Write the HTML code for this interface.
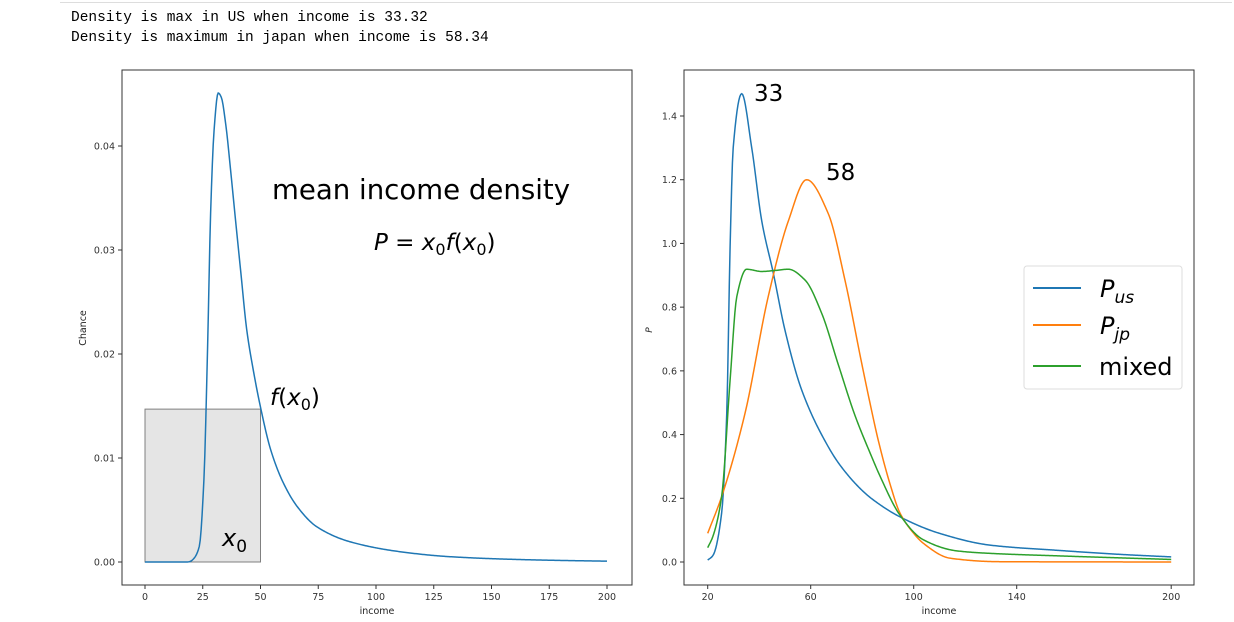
<!DOCTYPE html>
<html><head><meta charset="utf-8">
<style>
body{margin:0;background:#fff;width:1234px;height:622px;overflow:hidden;font-family:"DejaVu Sans","Liberation Sans",sans-serif}
#out{position:absolute;left:71px;top:8px;font-family:"Liberation Mono",monospace;font-size:14.5px;line-height:20px;color:#000;white-space:pre}
#topline{position:absolute;left:60px;top:0;width:1172px;height:2px;border-bottom:1px solid #ddd}
svg{position:absolute;left:0;top:0;font-family:"DejaVu Sans","Liberation Sans",sans-serif}
</style></head><body>
<div id="topline"></div>
<div id="out">Density is max in US when income is 33.32
Density is maximum in japan when income is 58.34</div>
<svg id="svg" width="1234" height="622"></svg>
<script>
// Left chart data
const usX = [0,18,19.5,21,23.5,25.5,27.1,28.4,29.9,31.7,33,35,37,39,41.5,44,47,49.8,54.4,59.9,66,74.3,88.7,110.4,132,160,180,200];
const usDensity = [0,0,0.00005,0.0003,0.0015,0.0079,0.0207,0.0335,0.0415,0.0451,0.0447,0.042,0.0378,0.0333,0.0278,0.0224,0.0183,0.0151,0.0108,0.0076,0.0053,0.0034,0.00195,0.00099,0.00051,0.00025,0.00015,0.00008];
const leftXTicks = [0,25,50,75,100,125,150,175,200];
const leftYTicks = [0,0.01,0.02,0.03,0.04];
const leftYLabels = ["0.00","0.01","0.02","0.03","0.04"];
const rectX0 = 50, rectF = 0.0147;
// Right chart data
const pusX = [20,22,25.4,27.4,28.7,29.9,33.2,37.1,41,45.5,50,56.5,66.8,71.4,79.8,84.3,94.6,110,129.6,157,180,200];
const pusV = [0.006,0.02,0.153,0.467,0.99,1.30,1.47,1.30,1.07,0.906,0.728,0.54,0.362,0.304,0.226,0.195,0.142,0.09,0.053,0.036,0.024,0.016];
const pjpX = [20,25.4,34.5,43.5,51.3,58.4,66.8,73.3,79.8,83,86.3,90.8,94.6,100,103.7,114.1,133,200];
const pjpV = [0.09,0.205,0.467,0.833,1.07,1.20,1.094,0.885,0.624,0.50,0.38,0.245,0.155,0.09,0.059,0.012,0.001,0.0];
const mixX = [20,22,25.4,28.7,31.3,35.1,41,46,51.3,57.8,64.3,70.7,77.2,83.7,86.9,94.6,103.7,116.7,130,157,180,200];
const mixV = [0.045,0.08,0.205,0.571,0.833,0.919,0.912,0.915,0.919,0.885,0.78,0.62,0.46,0.33,0.27,0.148,0.07,0.035,0.027,0.019,0.013,0.008];
const rightXTicks = [20,60,100,140,200];
const rightYTicks = [0,0.2,0.4,0.6,0.8,1.0,1.2,1.4];

const NS="http://www.w3.org/2000/svg", svg=document.getElementById('svg');
function el(tag,attrs,parent){const e=document.createElementNS(NS,tag);for(const k in attrs)e.setAttribute(k,attrs[k]);(parent||svg).appendChild(e);return e;}
function txt(s,attrs,parent){const e=el('text',attrs,parent);e.textContent=s;return e;}
// monotone cubic (Fritsch-Carlson) interpolation, sampled finely
function path(xs,ys,sx,sy){
  const n=xs.length,d=[],m=new Array(n);
  for(let i=0;i<n-1;i++)d.push((ys[i+1]-ys[i])/(xs[i+1]-xs[i]));
  m[0]=d[0];m[n-1]=d[n-2];
  for(let i=1;i<n-1;i++){if(d[i-1]*d[i]<=0)m[i]=0;else{const h0=xs[i]-xs[i-1],h1=xs[i+1]-xs[i];m[i]=3*(h0+h1)/((2*h1+h0)/d[i-1]+(h1+2*h0)/d[i]);}}
  let out=`M${sx(xs[0]).toFixed(2)},${sy(ys[0]).toFixed(2)}`;
  for(let i=0;i<n-1;i++){const h=xs[i+1]-xs[i],steps=Math.max(4,Math.ceil(sx(xs[i+1])-sx(xs[i])));
    for(let k=1;k<=steps;k++){const t=k/steps,t2=t*t,t3=t2*t;
      const y=(2*t3-3*t2+1)*ys[i]+(t3-2*t2+t)*h*m[i]+(-2*t3+3*t2)*ys[i+1]+(t3-t2)*h*m[i+1];
      out+=` L${sx(xs[i]+t*h).toFixed(2)},${sy(y).toFixed(2)}`;}}
  return out;}

// Left axes
const lx=v=>145+v*(607-145)/200, ly=v=>562-v*(562-146)/0.04;
const gL=el('g',{});  
const rect=el('rect',{x:lx(0),y:ly(rectF),width:lx(rectX0)-lx(0),height:ly(0)-ly(rectF),fill:'#e5e5e5',stroke:'#808080','stroke-width':1},gL);
 
const lc=el('path',{d:path(usX,usDensity,lx,ly),fill:'none',stroke:'#1f77b4','stroke-width':1.5},gL);
 
const lf=el('rect',{x:122,y:70,width:510,height:515,fill:'none',stroke:'#333','stroke-width':1},gL);
 
leftXTicks.forEach(t=>{const x=lx(t);el('line',{x1:x,x2:x,y1:585,y2:589,stroke:'#333'},gL);
  const tl=txt(String(t),{x:x,y:600,'font-size':9.5,'text-anchor':'middle',fill:'#333'},gL);
   });
leftYTicks.forEach((t,i)=>{const y=ly(t);el('line',{x1:118,x2:122,y1:y,y2:y,stroke:'#333'},gL);
  const tl=txt(leftYLabels[i],{x:115,y:y+3.5,'font-size':9.5,'text-anchor':'end',fill:'#333'},gL);
   });
let t;
t=txt('income',{x:377,y:614,'font-size':9.5,'text-anchor':'middle',fill:'#222'},gL);
t=txt('Chance',{x:86,y:328,'font-size':9.5,'text-anchor':'middle',fill:'#222',transform:'rotate(-90 86 328)'},gL);
t=txt('mean income density',{x:272,y:199,'font-size':27.6,fill:'#000'},gL);
t=el('text',{x:374,y:250,'font-size':23,fill:'#000'},gL);t.innerHTML='<tspan font-style="italic">P</tspan> = <tspan font-style="italic">x</tspan><tspan font-size="16" dy="5">0</tspan><tspan dy="-5" font-style="italic">f</tspan>(<tspan font-style="italic">x</tspan><tspan font-size="16" dy="5">0</tspan><tspan dy="-5">)</tspan>';

t=el('text',{x:270,y:405,'font-size':23,fill:'#000'},gL);t.innerHTML='<tspan font-style="italic">f</tspan>(<tspan font-style="italic">x</tspan><tspan font-size="16" dy="5">0</tspan><tspan dy="-5">)</tspan>';

t=el('text',{x:222,y:546,'font-size':24,fill:'#000'},gL);t.innerHTML='<tspan font-style="italic">x</tspan><tspan font-size="17" dy="6">0</tspan>';


// Right axes
const rx=v=>707.7+(v-20)*2.575, ry=v=>562-v*(562-116)/1.4;
const gR=el('g',{});  
const series=[[pusX,pusV,'#1f77b4','p-us-line'],[pjpX,pjpV,'#ff7f0e','p-jp-line'],[mixX,mixV,'#2ca02c','mixed-line']];
series.forEach(s=>{const p=el('path',{d:path(s[0],s[1],rx,ry),fill:'none',stroke:s[2],'stroke-width':1.5},gR);
   });
const rf=el('rect',{x:684,y:70,width:510,height:515,fill:'none',stroke:'#333','stroke-width':1},gR);
 
rightXTicks.forEach(v=>{const x=rx(v);el('line',{x1:x,x2:x,y1:585,y2:589,stroke:'#333'},gR);
  const tl=txt(String(v),{x:x,y:600,'font-size':9.5,'text-anchor':'middle',fill:'#333'},gR);
   });
rightYTicks.forEach(v=>{const y=ry(v);el('line',{x1:680,x2:684,y1:y,y2:y,stroke:'#333'},gR);
  const tl=txt(v.toFixed(1),{x:677,y:y+3.5,'font-size':9.5,'text-anchor':'end',fill:'#333'},gR);
   });
t=txt('income',{x:939,y:614,'font-size':9.5,'text-anchor':'middle',fill:'#222'},gR);
t=txt('P',{x:652,y:330,'font-size':9,'font-style':'italic','text-anchor':'middle',fill:'#222',transform:'rotate(-90 652 330)'},gR);
t=txt('33',{x:754,y:101,'font-size':23,fill:'#000'},gR);
t=txt('58',{x:826,y:180,'font-size':23,fill:'#000'},gR);
// Legend
const lg=el('g',{},gR);  
el('rect',{x:1024,y:266,width:158,height:123,rx:3,fill:'#fff','fill-opacity':0.8,stroke:'#ddd'},lg);
const legY=[288,325,366];
legY.forEach((y,i)=>{el('line',{x1:1033,x2:1081,y1:y,y2:y,stroke:series[i][2],'stroke-width':2},lg);});
t=el('text',{x:1100,y:297,'font-size':24,fill:'#000'},lg);t.innerHTML='<tspan font-style="italic">P</tspan><tspan font-style="italic" font-size="17" dy="6">us</tspan>';
t=el('text',{x:1100,y:334,'font-size':24,fill:'#000'},lg);t.innerHTML='<tspan font-style="italic">P</tspan><tspan font-style="italic" font-size="17" dy="6">jp</tspan>';
t=txt('mixed',{x:1099,y:375,'font-size':24,fill:'#000'},lg);
</script>
</body></html>
